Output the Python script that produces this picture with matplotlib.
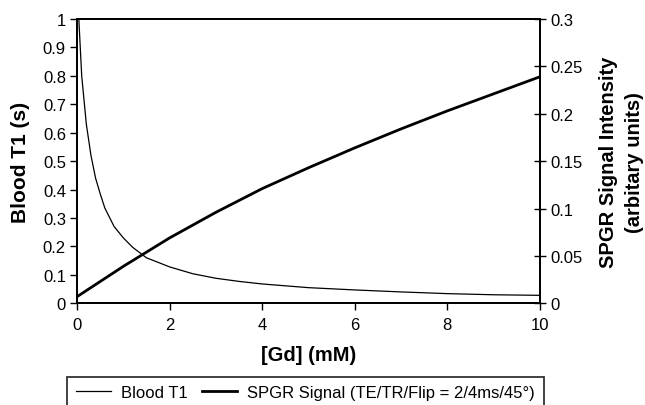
import matplotlib
matplotlib.use("Agg")
import matplotlib.pyplot as plt

# values
gd_conc = [0.0, 0.1, 0.2, 0.3, 0.4, 0.5, 0.6, 0.8, 1.0, 1.2, 1.5, 2.0, 2.5,
           3.0, 3.5, 4.0, 5.0, 6.0, 7.0, 8.0, 9.0, 10.0]
blood_t1 = [1.12, 0.80, 0.63, 0.52, 0.44, 0.385, 0.335, 0.27, 0.23, 0.197,
            0.16, 0.128, 0.104, 0.088, 0.077, 0.068, 0.055, 0.047, 0.040,
            0.034, 0.030, 0.028]
spgr_conc = [0.0, 0.5, 1.0, 1.5, 2.0, 3.0, 4.0, 5.0, 6.0, 7.0, 8.0, 9.0, 10.0]
spgr_signal = [0.007, 0.023, 0.039, 0.054, 0.069, 0.096, 0.121, 0.143,
               0.164, 0.184, 0.203, 0.221, 0.239]

x_ticks = [0, 2, 4, 6, 8, 10]
left_ticks = [0, 0.1, 0.2, 0.3, 0.4, 0.5, 0.6, 0.7, 0.8, 0.9, 1]
left_labels = ["0", "0.1", "0.2", "0.3", "0.4", "0.5", "0.6", "0.7", "0.8", "0.9", "1"]
right_ticks = [0, 0.05, 0.1, 0.15, 0.2, 0.25, 0.3]
right_labels = ["0", "0.05", "0.1", "0.15", "0.2", "0.25", "0.3"]

plt.rcParams['font.family'] = ['Liberation Sans', 'DejaVu Sans']

fig = plt.figure(figsize=(6.45, 4.06), dpi=100)
ax = fig.add_axes([0.1195, 0.2505, 0.7175, 0.7003])
ax2 = ax.twinx()

l1, = ax.plot(gd_conc, blood_t1, color='black', lw=0.9)
l2, = ax2.plot(spgr_conc, spgr_signal, color='black', lw=2.0)

ax.set_xlim(0, 10)
ax.set_ylim(0, 1)
ax2.set_ylim(0, 0.3)

ax.set_xticks(x_ticks)
ax.set_xticklabels([str(t) for t in x_ticks], fontsize=12)
ax.set_yticks(left_ticks)
ax.set_yticklabels(left_labels, fontsize=12)
ax2.set_yticks(right_ticks)
ax2.set_yticklabels(right_labels, fontsize=12)

ax.tick_params(axis='y', direction='out', length=5, width=1, color='black', pad=3)
ax.tick_params(axis='x', direction='out', length=5, width=1, color='black', pad=5)
ax2.tick_params(axis='y', direction='inout', length=9, width=1, color='black', pad=3)

for a in (ax, ax2):
    for s in a.spines.values():
        s.set_linewidth(1.3)
        s.set_color('black')

ax.set_xlabel("[Gd] (mM)", fontsize=14.5, fontweight='bold', labelpad=9)
ax.set_ylabel("Blood T1 (s)", fontsize=15, fontweight='bold', labelpad=9)
ax2.set_ylabel("SPGR Signal Intensity\n(arbitary units)", fontsize=14.5,
               fontweight='bold', labelpad=12, linespacing=1.45)

leg = fig.legend([l1, l2], ["Blood T1", "SPGR Signal (TE/TR/Flip = 2/4ms/45°)"],
                 loc='upper center', bbox_to_anchor=(0.4736, 0.069), ncol=2,
                 fontsize=12, frameon=True, fancybox=False, edgecolor='black',
                 handlelength=2.1, columnspacing=0.9, handletextpad=0.6,
                 borderpad=0.5, borderaxespad=0)
leg.get_frame().set_linewidth(1.3)

fig.savefig("out.png", dpi=100)
